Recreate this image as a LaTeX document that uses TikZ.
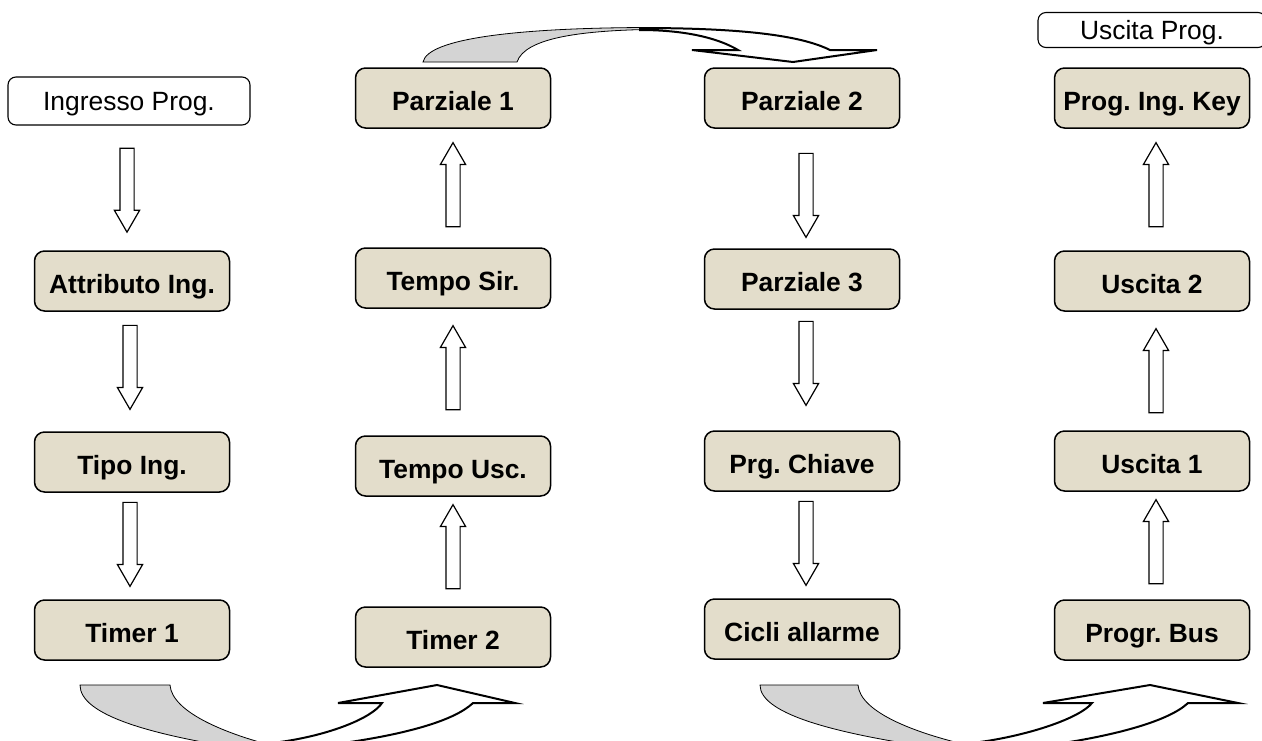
\documentclass[tikz,border=0pt]{standalone}
\usepackage{fontspec}
\setmainfont{Liberation Sans}
\usepackage{tikz}
\usetikzlibrary{shapes.arrows,positioning,calc}
\definecolor{boxfill}{RGB}{227,221,203}
\definecolor{ribbon}{RGB}{212,212,212}

\tikzset{
  stepbox/.style={draw, line width=1.5pt, rounded corners=10pt, fill=boxfill,
    minimum width=195pt, minimum height=60pt, inner sep=0pt,
    text height=25pt, text depth=0pt,
    font=\bfseries\fontsize{26.4}{30}\selectfont\frenchspacing},
  endbox/.style={draw, line width=1.1pt, rounded corners=8pt, fill=white,
    inner sep=0pt, text height=19pt, text depth=0pt,
    font=\fontsize{26.4}{30}\selectfont\frenchspacing},
  arrbase/.style={draw, line width=1.2pt, fill=white, single arrow,
    single arrow head extend=5.5pt, single arrow tip angle=60,
    minimum height=84pt, inner xsep=0pt, inner ysep=6.5pt, anchor=tail},
  dnarr/.style={arrbase, rotate=-90},
  uparr/.style={arrbase, rotate=90},
  backside/.style={fill=ribbon, draw, line width=0.8pt},
  frontside/.style={fill=white, draw, line width=2pt, line join=miter},
}

\begin{document}
\begin{tikzpicture}[x=1pt,y=-1pt]
\useasboundingbox (0,0) rectangle (1262,740);
\clip (0,0) rectangle (1262,740);

% curved arrows between the columns
\filldraw[backside] (80,685) -- (170,685) .. controls (172,712) and (225,735) .. (290,750)
  -- (250,750) .. controls (150,735) and (80,715) .. (80,685) -- cycle;
\filldraw[frontside] (280,742) .. controls (330,735) and (372,718) .. (382,703)
  -- (338,703) -- (437,685) -- (515,703) -- (473,703)
  .. controls (455,720) and (410,733) .. (350,742);

\filldraw[backside] (423,62) .. controls (428,38) and (520,28) .. (645,27.5)
  -- (645,29.5) .. controls (580,31) and (525,38) .. (517,62) -- cycle;
\filldraw[frontside] (640,28) .. controls (740,28) and (800,35) .. (830,50)
  -- (877,50) -- (793,62) -- (692,50) -- (738,50)
  .. controls (718,38) and (685,30) .. (640,30) -- cycle;

\filldraw[backside] (760,685) -- (858,685) .. controls (860,712) and (915,735) .. (990,750)
  -- (950,750) .. controls (840,735) and (760,715) .. (760,685) -- cycle;
\filldraw[frontside] (980,742) .. controls (1030,735) and (1080,718) .. (1092,703)
  -- (1043,703) -- (1150,685) -- (1238,703) -- (1188,703)
  .. controls (1170,720) and (1120,735) .. (1050,745);

% first column
\node[endbox, minimum width=242pt, minimum height=48pt] (ingp) at (129,101) {Ingresso Prog.};
\node[stepbox] (attr) at (132,281) {Attributo Ing.};
\node[stepbox] (tipo) at (132,462) {Tipo Ing.};
\node[stepbox] (tim1) at (132,630) {Timer 1};

% second column
\node[stepbox] (tim2) at (453,637) {Timer 2};
\node[stepbox] (tusc) at (453,466) {Tempo Usc.};
\node[stepbox] (tsir) at (453,278) {Tempo Sir.};
\node[stepbox] (par1) at (453,98) {Parziale 1};

% third column
\node[stepbox] (par2) at (802,98) {Parziale 2};
\node[stepbox] (par3) at (802,279) {Parziale 3};
\node[stepbox] (chia) at (802,461) {Prg. Chiave};
\node[stepbox] (cicl) at (802,629) {Cicli allarme};

% fourth column
\node[stepbox] (pbus) at (1152,630) {Progr. Bus};
\node[stepbox] (usc1) at (1152,461) {Uscita 1};
\node[stepbox] (usc2) at (1152,281) {Uscita 2};
\node[stepbox] (pkey) at (1152,98) {Prog. Ing. Key};
\node[endbox, minimum width=228pt, minimum height=35pt] (uscp) at (1152,30) {Uscita Prog.};

% block arrows, placed by their tails
\node[dnarr] at ($(ingp.south)+(-2,22)$) {};
\node[dnarr] at ($(attr.south)+(-2,13)$) {};
\node[dnarr] at ($(tipo.south)+(-2,9)$) {};

\node[uparr] at ($(tim2.north)+(0,-17)$) {};
\node[uparr] at ($(tusc.north)+(0,-25)$) {};
\node[uparr] at ($(tsir.north)+(0,-20)$) {};

\node[dnarr] at ($(par2.south)+(4,24)$) {};
\node[dnarr] at ($(par3.south)+(4,11)$) {};
\node[dnarr] at ($(chia.south)+(4,9)$) {};

\node[uparr] at ($(pbus.north)+(4,-15)$) {};
\node[uparr] at ($(usc1.north)+(4,-17)$) {};
\node[uparr] at ($(usc2.north)+(4,-23)$) {};
\end{tikzpicture}
\end{document}
